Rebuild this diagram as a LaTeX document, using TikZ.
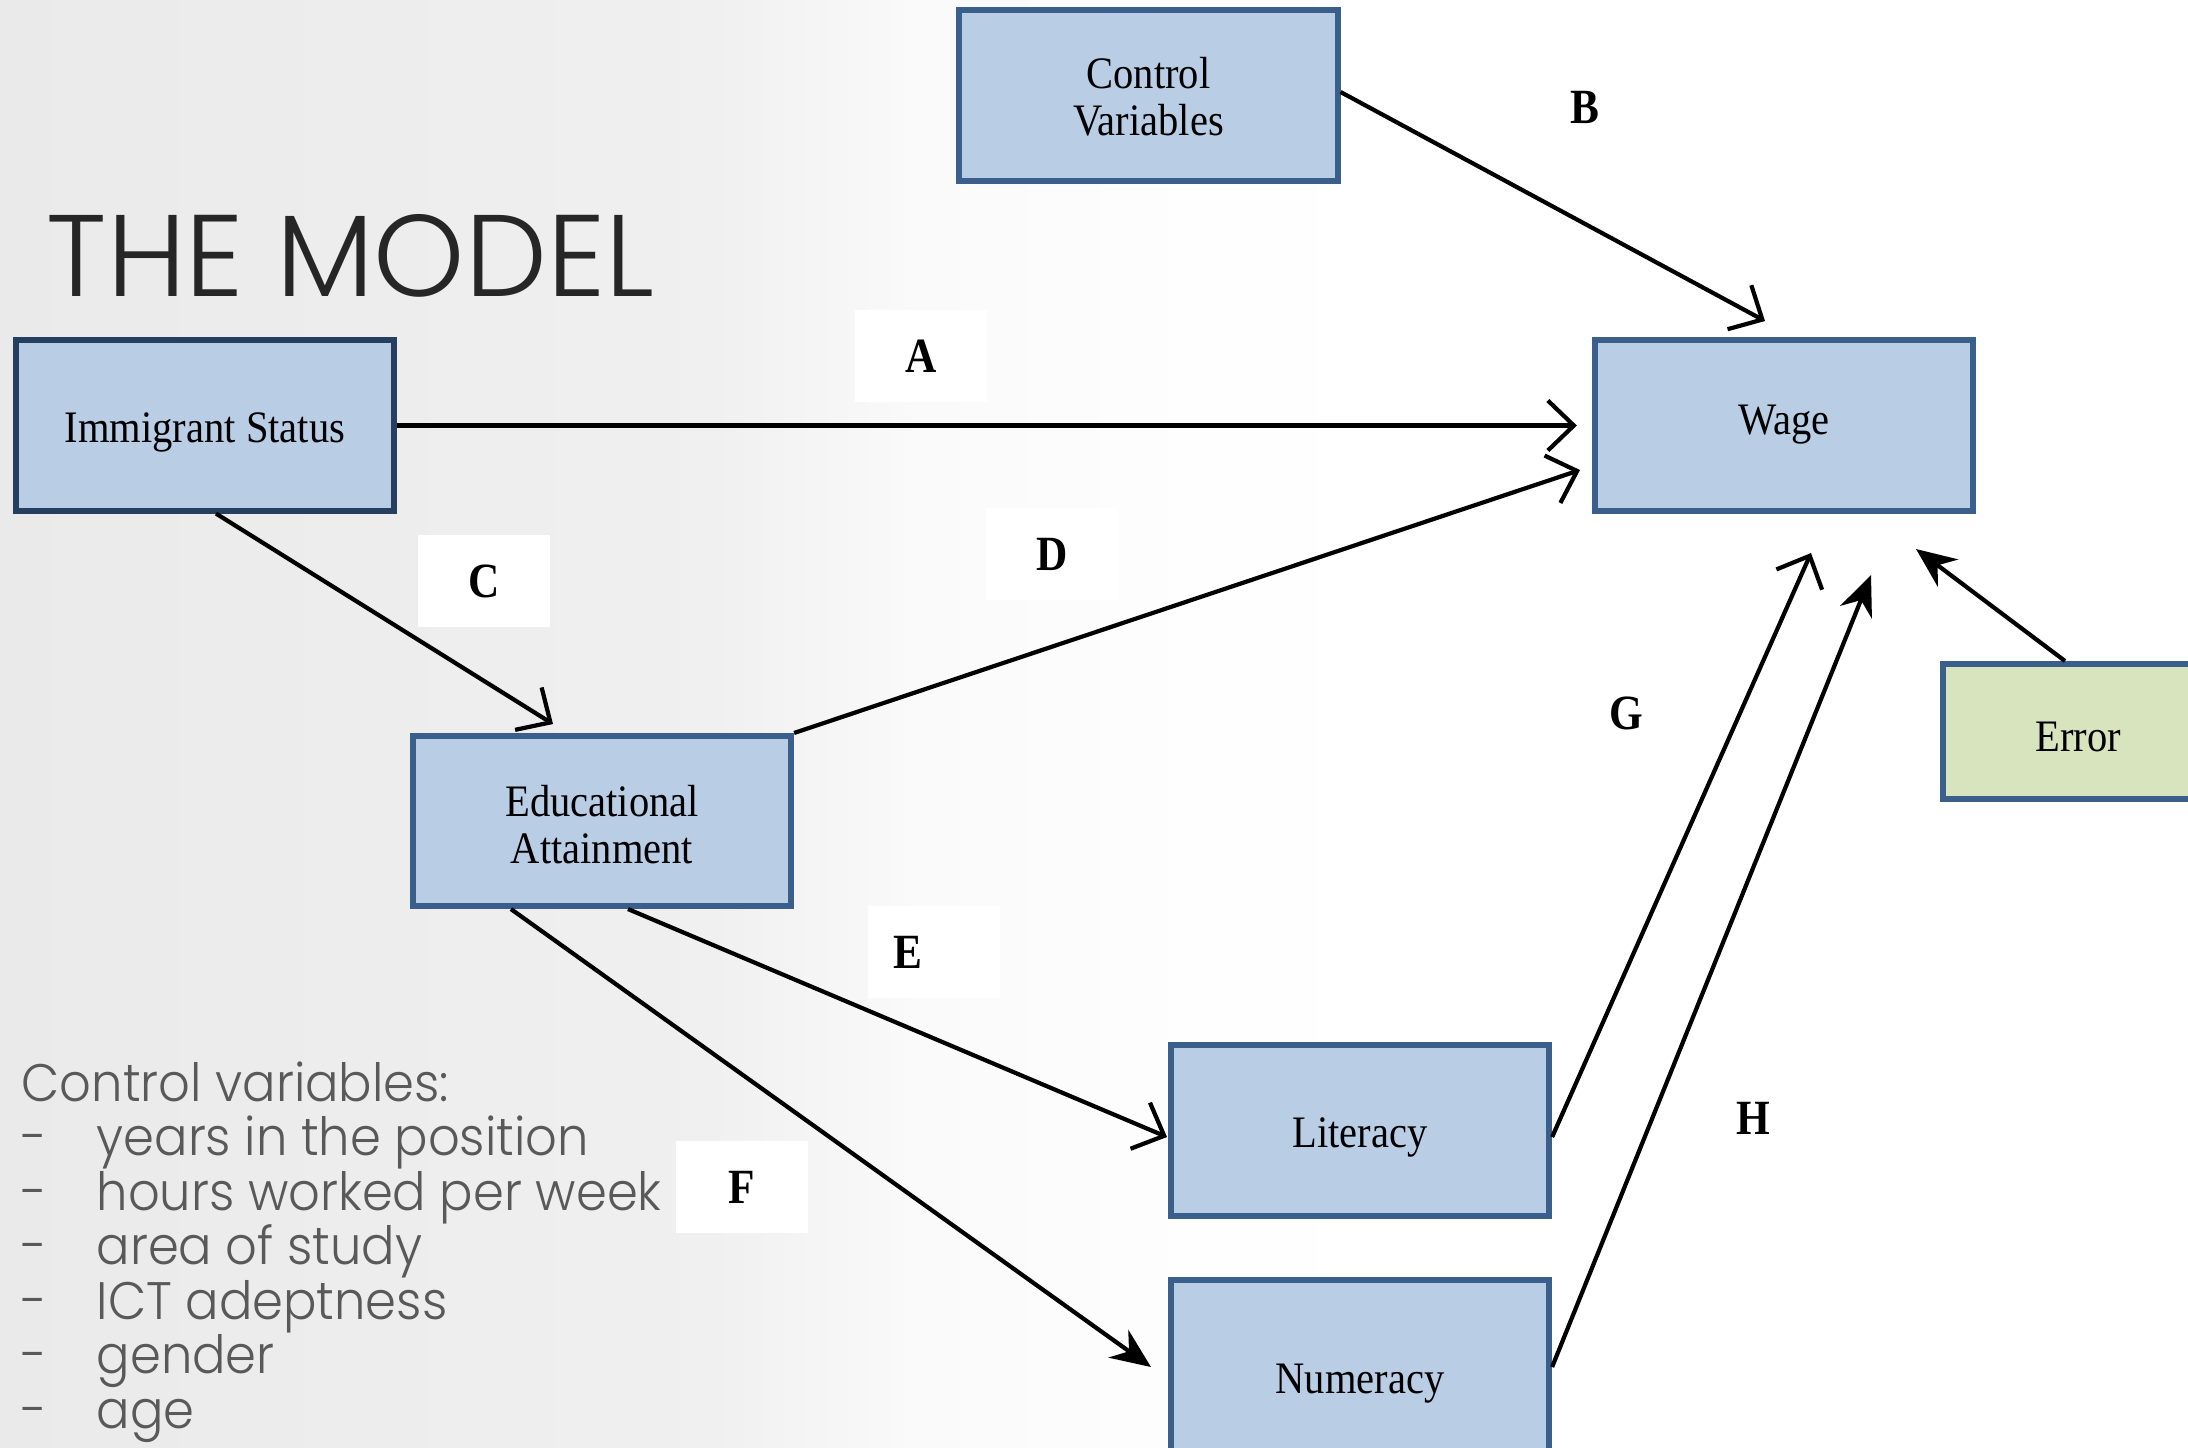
\documentclass[tikz,border=0pt]{standalone}
\usepackage{fontspec}
\usetikzlibrary{arrows.meta}
\setmainfont{Liberation Serif}
\newfontfamily\boxfont[FakeStretch=0.9]{Liberation Serif}
\newfontfamily\lblfont[FakeStretch=0.88]{Liberation Serif}
\newfontfamily\titlefont[UprightFont={* Light}]{Poppins}
\newfontfamily\cvfont[UprightFont={* Light},FakeStretch=0.94]{Poppins}
\definecolor{boxfill}{HTML}{B9CDE5}
\definecolor{boxline}{HTML}{3A5F8B}
\definecolor{boxlinedark}{HTML}{243F60}
\definecolor{errfill}{HTML}{D7E4BD}
\definecolor{titlecol}{HTML}{262626}
\definecolor{cvcol}{HTML}{595959}
\pgfdeclarehorizontalshading{bgshade}{100bp}{color(0bp)=(black!10); color(22.85bp)=(black!8.5); color(41.1bp)=(black!6); color(46bp)=(black!2); color(52bp)=(black!0.5); color(57.1bp)=(white); color(84.6bp)=(white); color(100bp)=(black!5)}
\newcommand{\bxt}[2]{\raisebox{-#1}[\height][\depth]{\begin{tabular}{@{}c@{}}#2\end{tabular}}}
\begin{document}
\begin{tikzpicture}[x=0.01cm,y=-0.01cm,
  varbox/.style={draw=boxline, fill=boxfill, line width=1.7pt, minimum width=3.78cm, minimum height=1.70cm, inner sep=0pt, font=\boxfont\fontsize{12.8}{13.3}\selectfont},
  lbl/.style={fill=white, minimum width=1.31cm, minimum height=0.92cm, inner sep=0pt, font=\lblfont\bfseries\fontsize{14}{16}\selectfont},
  barb/.style={line width=1.2pt, -{Straight Barb[length=2.6mm,width=5mm,line width=1.2pt]}},
  stl/.style={line width=1.2pt, -{Stealth[length=4mm,width=3.4mm]}},
  cv/.style={anchor=base west, inner sep=0pt, text=cvcol, font=\cvfont\fontsize{15}{16}\selectfont}
]
\useasboundingbox (0,0) rectangle (2188,1447);
\shade[shading=bgshade] (0,0) rectangle (2188,1447);

\node[anchor=base west, inner sep=0pt, text=titlecol, font=\titlefont\fontsize{33}{36}\selectfont] (title) at (46,296) {THE MODEL};

\node[varbox] (ctrl) at (1148.5,95.5) {\bxt{0.07cm}{Control\\Variables}};
\node[varbox, draw=boxlinedark] (imm) at (205,425.5) {\bxt{0.08cm}{Immigrant Status}};
\node[varbox] (wage) at (1784,425.5) {\bxt{0cm}{Wage}};
\node[varbox] (edu) at (602,821) {\bxt{0.095cm}{Educational\\Attainment}};
\node[varbox, fill=errfill, minimum width=2.7cm, minimum height=1.35cm] (err) at (2078,731.5) {\bxt{0.105cm}{Error}};
\node[varbox] (lit) at (1360,1130.5) {\bxt{0.08cm}{Literacy}};
\node[varbox, minimum height=2.0cm] (num) at (1360,1380) {\bxt{0.04cm}{Numeracy}};

\node[lbl] (la) at (921,356) {A};
\node[lbl] (lb) at (1585,107) {B};
\node[lbl] (lc) at (484,581) {C};
\node[lbl] (ld) at (1052,554) {D};
\node[lbl] (le) at (934,952) {\makebox[0.81cm][l]{E}};
\node[lbl] (lf) at (742,1187) {F};
\node[lbl] (lg) at (1626,713) {G};
\node[lbl] (lh) at (1753,1118) {H};

\coordinate (bTip) at (1765,321);
\coordinate (cTip) at (553,724);
\coordinate (dTip) at (1580,470);
\coordinate (eTip) at (1167,1137);
\coordinate (fTip) at (1151,1367);
\coordinate (gTip) at (1811,553);
\coordinate (hTip) at (1871,575);
\coordinate (errTip) at (1916,549);

\draw[barb, shorten >=0.15cm] (imm.east) -- (wage.west);
\draw[barb] ([yshift=0.035cm]ctrl.east) -- (bTip);
\draw[barb] ([xshift=0.11cm]imm.south) -- (cTip);
\draw[barb] (edu.north east) -- (dTip);
\draw[barb] ([xshift=0.26cm]edu.south) -- (eTip);
\draw[stl] ([xshift=-0.91cm]edu.south) -- (fTip);
\draw[barb] ([yshift=-0.065cm]lit.east) -- (gTip);
\draw[stl] ([yshift=0.13cm]num.east) -- (hTip);
\draw[stl] ([xshift=-0.13cm]err.north) -- (errTip);

\node[cv] (cv0) at (21,1101) {Control variables:};
\foreach \t [count=\i] in {years in the position, hours worked per week, area of study, ICT adeptness, gender, age}{
  \node[cv] (cvd\i) at (21,1101+54.5*\i) {-};
  \node[cv] (cv\i) at (96,1101+54.5*\i) {\t};
}
\end{tikzpicture}
\end{document}
